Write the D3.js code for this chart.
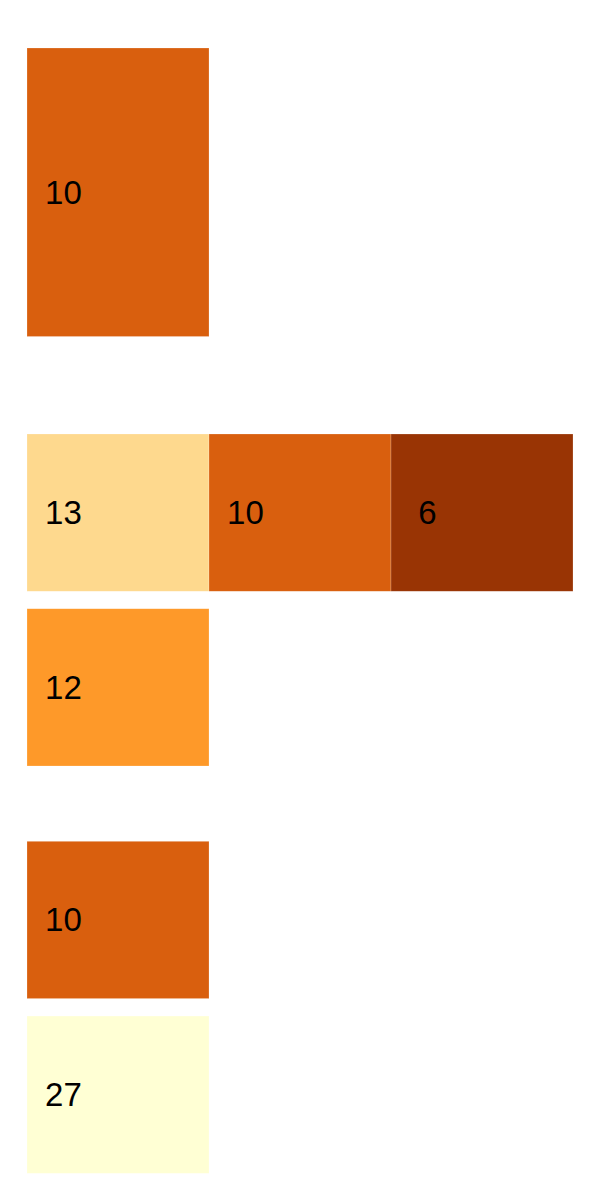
<!DOCTYPE html>
<html>
<head>
<meta charset="utf-8">
<script src="https://cdn.jsdelivr.net/npm/d3@7"></script>
<style>
  html, body { margin: 0; padding: 0; background: #ffffff; }
  svg { display: block; }
</style>
</head>
<body>
<svg id="chart" width="600" height="1200"></svg>
<script>
// ---- data ----
const groups = ["A", "B", "C"];
const rowsByGroup = { A: ["A1"], B: ["B1", "B2"], C: ["C1", "C2"] };
const columns = ["1", "2", "3"];
const cellRow = ["A1", "B1", "B1", "B1", "B2", "C1", "C2"];
const cellCol = ["1", "1", "2", "3", "1", "1", "1"];
const cellValue = [10, 13, 10, 6, 12, 10, 27];
const colorDomain = [27, 13, 12, 10, 6];
const colorRange = ["#ffffd4", "#fed98e", "#fe9929", "#d95f0e", "#993404"];

// ---- layout ----
const svg = d3.select("#chart");

const x = d3.scaleBand().domain(columns).range([27, 573]).padding(0);

// panel extents (vertical)
const panelRange = { A: [48, 336.5], B: [434, 766], C: [841.3, 1173.3] };
const yScales = {};
groups.forEach(g => {
  const n = rowsByGroup[g].length;
  yScales[g] = d3.scaleBand().domain(rowsByGroup[g]).range(panelRange[g])
    .paddingInner(n > 1 ? 0.1 : 0).paddingOuter(0);
});
const rowGroup = r => groups.find(g => rowsByGroup[g].includes(r));

const color = d3.scaleOrdinal().domain(colorDomain).range(colorRange);

const cells = cellValue.map((v, i) => ({ row: cellRow[i], col: cellCol[i], value: v }));

const g = svg.append("g");
g.selectAll("rect.cell")
  .data(cells)
  .join("rect")
  .attr("class", "cell")
  .attr("x", d => x(d.col))
  .attr("y", d => yScales[rowGroup(d.row)](d.row))
  .attr("width", x.bandwidth())
  .attr("height", d => yScales[rowGroup(d.row)].bandwidth())
  .attr("fill", d => color(d.value))
  .attr("stroke", "#ffffff")
  .attr("stroke-opacity", 0.35)
  .attr("stroke-width", 0.6);

g.selectAll("text.lbl")
  .data(cells)
  .join("text")
  .attr("class", "lbl")
  .attr("x", d => x(d.col) + x.bandwidth() * 0.2)
  .attr("y", d => yScales[rowGroup(d.row)](d.row) + yScales[rowGroup(d.row)].bandwidth() / 2)
  .attr("text-anchor", "middle")
  .attr("dominant-baseline", "central")
  .attr("font-family", "'Liberation Sans', Arial, Helvetica, sans-serif")
  .attr("font-size", 33)
  .attr("fill", "#000000")
  .text(d => d.value);
</script>
</body>
</html>
